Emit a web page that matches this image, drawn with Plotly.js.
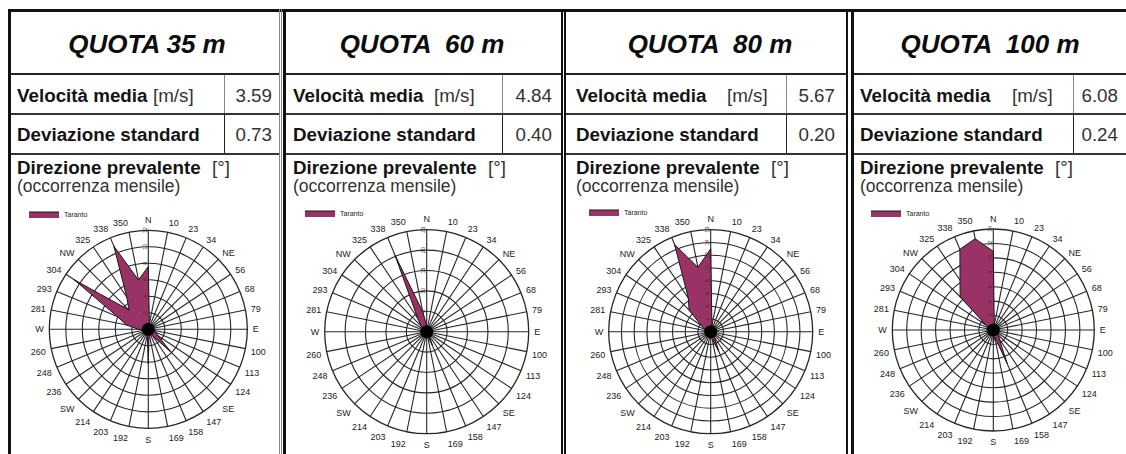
<!DOCTYPE html>
<html><head><meta charset="utf-8">
<script src="https://cdn.plot.ly/plotly-3.0.1.min.js"></script>
<style>
html,body{margin:0;padding:0;background:#fff;width:1126px;height:454px;overflow:hidden;font-family:"Liberation Sans",Arial,sans-serif;color:#141414;}
#chart{position:absolute;left:0;top:0;width:1126px;height:454px;}
#overlay{position:absolute;left:0;top:0;width:1126px;height:454px;pointer-events:none;}
.ln{position:absolute;}
.t{position:absolute;white-space:pre;line-height:1;}
</style></head><body>
<div id="chart"></div>
<div id="overlay"></div>
<script>
// ---- data ----
const directions = ['N','10','23','34','NE','56','68','79','E','100','113','124','SE','147','158','169','S','192','203','214','SW','236','248','260','W','281','293','304','NW','325','338','350'];
const panelTitles = ['QUOTA 35 m','QUOTA  60 m','QUOTA  80 m','QUOTA  100 m'];
const meanSpeed = ['3.59','4.84','5.67','6.08'];
const stdDeviation = ['0.73','0.40','0.20','0.24'];
const seriesName = 'Taranto';
const occ35 = [7.6,0.7,0.5,0.4,0.4,0.4,0.4,0.4,0.5,0.8,1.0,1.4,3.9,1.0,0.5,0.5,4.2,0.6,0.4,0.4,0.4,0.4,0.4,0.5,1.2,2.7,4.1,10.8,3.3,4.7,10.9,6.1];
const occ60 = [1.5,0.5,0.3,0.3,0.3,0.3,0.3,0.3,0.3,0.3,0.3,0.5,0.8,1.0,3.6,1.0,0.8,0.3,0.3,0.3,0.3,0.3,0.3,0.3,0.3,0.4,0.6,1.0,2.0,4.0,20.2,5.0];
const occ80 = [13.0,1.0,0.4,0.3,0.3,0.3,0.3,0.3,0.3,0.3,0.3,0.4,0.6,1.0,3.3,1.2,0.8,0.3,0.3,0.3,0.3,0.3,0.3,0.3,0.4,0.6,1.0,1.8,4.8,6.3,14.8,10.3];
const occ100 = [10.9,0.7,0.4,0.3,0.3,0.3,0.3,0.3,0.3,0.3,0.4,0.6,1.0,1.5,5.0,1.0,1.8,0.4,0.3,0.3,0.3,0.3,0.3,0.3,0.3,0.4,0.5,1.2,6.5,8.3,12.1,12.9];
const radialMax = [12,25,16,14];
const radialStep = [2,5,2,2];

// ---- geometry / styles ----
const W = 1126, H = 454;
const series = [occ35, occ60, occ80, occ100];
const geo = [
  {left:11, right:279, labelX:17, unitX:153, sep:224, valRight:272, tc:147, cx:148.3, cy:329.3, R:99, legX:24, legY:214},
  {left:286, right:561, labelX:293, unitX:434, sep:502, valRight:552, tc:422, cx:426.7, cy:331.7, R:102, legX:300, legY:213},
  {left:566, right:846, labelX:576, unitX:727, sep:786, valRight:835, tc:710, cx:710.7, cy:331.7, R:102, legX:584, legY:212},
  {left:854, right:1126, labelX:860, unitX:1012, sep:1073, valRight:1118, tc:990, cx:993.3, cy:330, R:101, legX:866, legY:213}
];
const fillCol = '#993366';
const gridCol = '#262626';

const traces = [];
const layout = {
  width: W, height: H, margin:{l:0,r:0,t:0,b:0},
  paper_bgcolor:'rgba(0,0,0,0)', plot_bgcolor:'rgba(0,0,0,0)',
  font:{family:'"Liberation Sans", Arial, sans-serif', color:'#1a1a1a'},
  shapes: []
};

series.forEach((vals, i) => {
  const g = geo[i];
  const pid = i === 0 ? 'polar' : 'polar' + (i+1);
  const lid = i === 0 ? 'legend' : 'legend' + (i+1);
  traces.push({
    type:'scatterpolar', subplot: pid, legend: lid,
    r: vals.concat([vals[0]]), theta: directions.concat([directions[0]]),
    mode:'lines', fill:'toself', fillcolor: fillCol,
    line:{color:'#1a1a1a', width:1}, name: seriesName, showlegend:true,
    hoverinfo:'r+theta'
  });
  layout[pid] = {
    domain:{ x:[(g.cx-g.R)/W, (g.cx+g.R)/W], y:[1-(g.cy+g.R)/H, 1-(g.cy-g.R)/H] },
    bgcolor:'#fff',
    angularaxis:{
      type:'category', categoryorder:'array', categoryarray: directions,
      direction:'clockwise', rotation:90,
      showgrid:true, gridcolor:gridCol, gridwidth:1.1,
      showline:true, linecolor:gridCol, linewidth:1.3,
      ticks:'outside', ticklen:3, tickcolor:'rgba(0,0,0,0)',
      tickfont:{size:9, color:'#222'}
    },
    radialaxis:{
      range:[0, radialMax[i]], dtick: radialStep[i], angle:90,
      showgrid:true, gridcolor:gridCol, gridwidth:1.1,
      showline:false, ticks:'', tickfont:{size:5.5, color:'#333'},
      tickangle:0, side:'counterclockwise'
    }
  };
  layout[lid] = {
    x: g.legX/W, y: 1 - g.legY/H, xanchor:'left', yanchor:'middle',
    bgcolor:'rgba(0,0,0,0)', font:{size:7, color:'#222'},
    itemwidth:30, tracegroupgap:0
  };
  layout.shapes.push({
    type:'circle', xref:'paper', yref:'paper',
    xsizemode:'pixel', ysizemode:'pixel',
    xanchor: g.cx/W, yanchor: 1 - g.cy/H,
    x0:-6.5, x1:6.5, y0:-6.5, y1:6.5,
    fillcolor:'#000', line:{width:0}
  });
});

Plotly.newPlot('chart', traces, layout, {displayModeBar:false, staticPlot:true});

// ---- table overlay ----
const ov = document.getElementById('overlay');
function line(x, y, w, h, c){ const d=document.createElement('div'); d.className='ln'; d.style.cssText=`left:${x}px;top:${y}px;width:${w}px;height:${h}px;background:${c}`; ov.appendChild(d); }
function text(str, x, top, size, opts){ const d=document.createElement('div'); d.className='t'; d.textContent=str;
  let css=`top:${top}px;font-size:${size}px;`;
  if(opts.align==='center'){ css+=`left:${x-300}px;width:600px;text-align:center;`; }
  else if(opts.align==='right'){ css+=`left:${x-200}px;width:200px;text-align:right;`; }
  else css+=`left:${x}px;`;
  if(opts.bold) css+='font-weight:bold;';
  if(opts.italic) css+='font-style:italic;';
  if(opts.color) css+=`color:${opts.color};`;
  d.style.cssText=css; ov.appendChild(d); }

// outer frame lines
line(8, 9, W-8, 3, '#111');
line(8, 9, 3, H-9, '#111');
line(279, 9, 1, H-9, '#888'); line(281, 9, 1, H-9, '#888'); line(283, 9, 3, H-9, '#111');
line(561, 9, 2, H-9, '#111'); line(564, 9, 2, H-9, '#111');
line(846, 9, 1.5, H-9, '#111'); line(851, 9, 3, H-9, '#111');

const fs = 18.8;
geo.forEach((g, i) => {
  const w = g.right - g.left;
  line(g.left, 73, w, 2, '#222');
  line(g.left, 113, w, 2, '#333');
  line(g.left, 153, w, 2, '#333');
  line(g.sep, 75, 1, 38, '#888');
  line(g.sep, 115, 1, 38, '#222');
  text(panelTitles[i], g.tc, 31, 26, {align:'center', bold:true, italic:true, color:'#0d0d0d'});
  text('Velocità media', g.labelX, 86.8, fs, {bold:true});
  text('[m/s]', g.unitX, 86.8, fs, {color:'#333'});
  text(meanSpeed[i], g.valRight, 86.8, fs, {align:'right', color:'#333'});
  text('Deviazione standard', g.labelX, 125.8, fs, {bold:true});
  text(stdDeviation[i], g.valRight, 125.8, fs, {align:'right', color:'#333'});
  text('Direzione prevalente', g.labelX, 159, fs, {bold:true});
  text('[°]', g.labelX + 195, 159, fs, {color:'#333'});
  text('(occorrenza mensile)', g.labelX, 178, 17.5, {color:'#333'});
});
</script>
</body></html>
